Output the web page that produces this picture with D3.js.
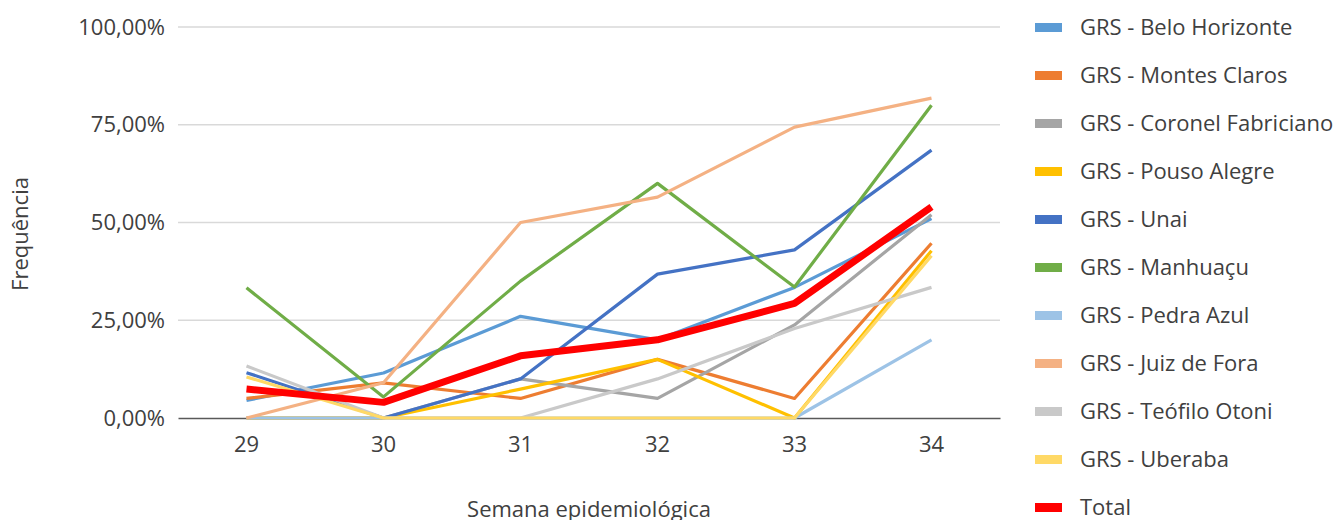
<!DOCTYPE html>
<html lang="pt">
<head>
    <meta charset="UTF-8">
    <title>Frequência por semana epidemiológica</title>
    <style>
        body { margin: 0; background: #fff; }
        svg { display: block; }
    </style>
</head>
<body>
<svg></svg>
<script src="https://cdn.jsdelivr.net/npm/d3@7"></script>
<script>
    // semanas epidemiológicas
    const weeks = ["29", "30", "31", "32", "33", "34"];
    const yTicks = [0, 0.25, 0.5, 0.75, 1];

    const names = [
        "GRS - Belo Horizonte", "GRS - Montes Claros", "GRS - Coronel Fabriciano",
        "GRS - Pouso Alegre", "GRS - Unai", "GRS - Manhuaçu", "GRS - Pedra Azul",
        "GRS - Juiz de Fora", "GRS - Teófilo Otoni", "GRS - Uberaba", "Total"
    ];
    const colors = [
        "#5B9BD5", "#ED7D31", "#A5A5A5", "#FFC000", "#4472C4", "#70AD47",
        "#9DC3E6", "#F4B183", "#C9C9C9", "#FFD966", "#FF0000"
    ];

    // valores (fração)
    const beloHorizonte   = [0.045, 0.115, 0.26, 0.20, 0.334, 0.51];
    const montesClaros    = [0.05, 0.09, 0.05, 0.15, 0.05, 0.447];
    const coronelFabric   = [0.0, 0.0, 0.10, 0.05, 0.238, 0.52];
    const pousoAlegre     = [0.0, 0.0, 0.074, 0.15, 0.0, 0.428];
    const unai            = [0.116, 0.0, 0.10, 0.368, 0.43, 0.685];
    const manhuacu        = [0.333, 0.054, 0.35, 0.60, 0.335, 0.80];
    const pedraAzul       = [0.0, 0.0, 0.0, 0.0, 0.0, 0.20];
    const juizDeFora      = [0.0, 0.09, 0.50, 0.565, 0.744, 0.818];
    const teofiloOtoni    = [0.133, 0.0, 0.0, 0.10, 0.229, 0.334];
    const uberaba         = [0.105, 0.0, 0.0, 0.0, 0.0, 0.415];
    const total           = [0.074, 0.04, 0.159, 0.20, 0.293, 0.54];

    const series = [beloHorizonte, montesClaros, coronelFabric, pousoAlegre, unai,
        manhuacu, pedraAzul, juizDeFora, teofiloOtoni, uberaba, total];

    const width = 1341, height = 520;
    const plot = {left: 178, right: 1000, top: 27, bottom: 418};
    const font = "'Open Sans', 'Noto Sans', sans-serif";
    const fs = 22;

    const svg = d3.select("svg")
        .attr("width", width)
        .attr("height", height)
        .style("font-family", font);

    const x = d3.scaleBand().domain(weeks).range([plot.left, plot.right]);
    const y = d3.scaleLinear().domain([0, 1]).range([plot.bottom, plot.top]);

    const fmt = v => d3.format(".2f")(v * 100).replace(".", ",") + "%";

    // grid
    svg.append("g")
        .selectAll("line")
        .data(yTicks.filter(d => d > 0))
        .join("line")
        .attr("x1", plot.left).attr("x2", plot.right)
        .attr("y1", d => y(d)).attr("y2", d => y(d))
        .attr("stroke", "#D9D9D9")
        .attr("stroke-width", 1.5);

    // eixo y
    const yAxis = svg.append("g")
        .attr("transform", `translate(${plot.left},0)`)
        .call(d3.axisLeft(y).tickValues(yTicks).tickFormat(fmt).tickSize(0).tickPadding(13));
    yAxis.select(".domain").remove();
    yAxis.selectAll("text")
        .attr("font-size", fs).attr("font-family", font).attr("fill", "#404040");

    // eixo x
    const xAxis = svg.append("g")
        .attr("transform", `translate(0,${plot.bottom})`)
        .call(d3.axisBottom(x).tickSize(0).tickPadding(18));
    xAxis.select(".domain").attr("stroke", "#595959").attr("stroke-width", 1.5);
    xAxis.selectAll("text")
        .attr("font-size", fs).attr("font-family", font).attr("fill", "#404040");

    // linhas
    const line = d3.line()
        .x((d, i) => x(weeks[i]) + x.bandwidth() / 2)
        .y(d => y(d));

    svg.append("g")
        .attr("fill", "none")
        .attr("stroke-linejoin", "round")
        .selectAll("path")
        .data(series)
        .join("path")
        .attr("d", line)
        .attr("stroke", (d, i) => colors[i])
        .attr("stroke-width", (d, i) => i === series.length - 1 ? 7 : 3.2);

    // títulos
    svg.append("text")
        .attr("transform", "translate(28,234) rotate(-90)")
        .attr("text-anchor", "middle")
        .attr("font-size", fs)
        .attr("fill", "#404040")
        .text("Frequência");

    svg.append("text")
        .attr("x", 589).attr("y", 517)
        .attr("text-anchor", "middle")
        .attr("font-size", fs)
        .attr("fill", "#404040")
        .text("Semana epidemiológica");

    // legenda
    const legend = svg.append("g")
        .selectAll("g")
        .data(names)
        .join("g")
        .attr("transform", (d, i) => `translate(1035,${27 + i * 48})`);

    legend.append("rect")
        .attr("x", 0).attr("y", -4)
        .attr("width", 27).attr("height", 9)
        .attr("fill", (d, i) => colors[i]);

    legend.append("text")
        .attr("x", 45).attr("dy", "0.35em")
        .attr("font-size", fs)
        .attr("fill", "#404040")
        .text(d => d);
</script>
</body>
</html>
